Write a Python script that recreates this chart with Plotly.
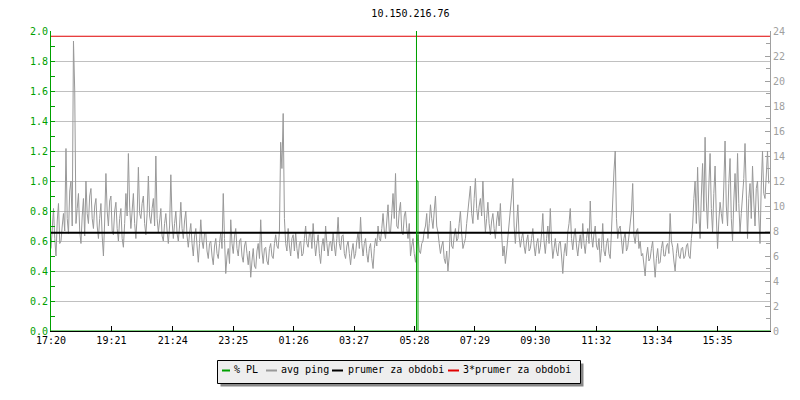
import plotly.graph_objects as go

# ---- data ----
title_text = "10.150.216.76"
tick_minutes = [0, 121, 244, 365, 486, 607, 728, 849, 970, 1092, 1214, 1335]
tick_labels = ["17:20", "19:21", "21:24", "23:25", "01:26", "03:27",
               "05:28", "07:29", "09:30", "11:32", "13:34", "15:35"]

avg_ping_ms = [
    # 17:20 - 23:20
    6.6, 8.0, 9.8, 7.4, 6.0, 8.8, 10.2, 7.0, 7.2, 8.4, 9.4, 8.0, 14.6, 9.0, 7.8, 11.2,
    12.0, 8.4, 23.2, 19.2, 8.6, 9.8, 11.0, 8.0, 7.0, 9.2, 10.6, 7.6, 12.0, 9.4, 8.6, 10.8,
    11.4, 9.0, 8.2, 10.0, 10.6, 8.4, 7.4, 9.0, 10.2, 7.6, 6.0, 8.8, 12.6, 9.6, 8.4, 10.4,
    10.8, 8.0, 7.7, 9.6, 10.3, 8.2, 7.2, 9.0, 9.8, 7.4, 6.7, 8.6, 11.0, 9.2, 14.2, 10.0,
    8.2, 9.6, 11.0, 8.6, 7.4, 9.2, 13.1, 9.4, 9.0, 10.2, 10.8, 8.6, 7.7, 9.4, 12.4, 9.2,
    8.6, 9.8, 10.6, 8.4, 14.0, 9.0, 7.9, 8.8, 9.8, 7.6, 7.2, 8.6, 9.4, 8.0, 7.0, 8.4,
    12.5, 8.8, 7.4, 8.6, 9.6, 7.8, 7.2, 8.4, 10.3, 8.2, 7.4, 8.8, 9.6, 7.6, 6.7, 7.8,
    8.6, 7.0, 6.0, 7.6, 8.2, 6.8, 5.5, 7.0, 8.9, 7.2, 6.6, 7.8, 7.9, 6.4, 5.8, 7.0,
    7.2, 6.0, 5.3, 6.8, 7.4, 6.2, 5.8, 7.0, 7.9, 6.6, 11.0, 7.4, 4.6, 6.0, 6.6, 5.4,
    # 23:20 - 05:20
    8.9, 7.0, 6.2, 7.6, 8.2, 6.6, 6.0, 7.2, 7.4, 6.0, 5.5, 6.8, 7.2, 6.2, 5.3, 6.4,
    4.3, 5.6, 6.6, 5.2, 5.0, 6.4, 7.0, 5.8, 8.9, 6.4, 5.4, 6.6, 6.7, 5.6, 5.3, 6.6,
    7.0, 6.0, 5.8, 7.0, 7.7, 6.8, 6.6, 8.0, 15.1, 13.0, 17.4, 9.0, 7.0, 6.4, 8.2, 6.8,
    6.0, 7.4, 7.7, 6.4, 7.9, 6.6, 5.8, 7.0, 7.2, 6.0, 6.2, 7.4, 8.4, 7.0, 6.7, 7.8,
    7.9, 6.6, 8.6, 7.2, 6.0, 7.0, 7.7, 6.2, 5.4, 6.8, 7.4, 6.4, 8.4, 7.0, 6.0, 7.0,
    7.2, 6.4, 7.9, 6.8, 6.0, 7.4, 9.1, 7.0, 6.5, 7.6, 7.7, 6.2, 5.8, 6.8, 7.2, 6.2,
    5.3, 6.4, 7.0, 5.8, 6.2, 7.2, 7.9, 6.6, 9.1, 7.0, 6.0, 7.0, 7.4, 6.2, 5.5, 6.6,
    7.0, 5.8, 5.0, 6.6, 7.4, 6.8, 8.4, 7.4, 7.2, 8.2, 9.4, 8.0, 7.4, 8.8, 10.1, 8.0,
    7.9, 9.4, 11.0, 9.0, 12.6, 8.4, 8.2, 9.6, 10.3, 8.0, 7.7, 9.2, 9.6, 8.2, 7.4, 8.6,
    # 05:20 - 11:20
    6.0, 6.8, 7.4, 6.2, 5.5, 6.6, 7.7, 6.4, 6.2, 7.0, 7.2, 8.0, 8.4, 9.4, 7.4, 8.6,
    10.1, 9.0, 8.2, 9.6, 10.8, 8.4, 7.9, 7.0, 6.2, 6.8, 7.2, 5.8, 5.4, 6.4, 4.8, 6.0,
    8.8, 6.8, 6.6, 7.6, 8.2, 7.2, 7.4, 8.6, 9.6, 7.8, 6.6, 7.0, 7.4, 8.6, 9.8, 10.4,
    11.6, 9.4, 8.6, 10.6, 12.2, 9.8, 8.9, 10.0, 10.6, 9.2, 12.0, 9.6, 7.9, 9.0, 10.3, 8.6,
    7.7, 8.8, 9.4, 8.2, 7.4, 8.8, 9.6, 8.4, 10.2, 7.8, 6.0, 6.8, 5.4, 6.4, 7.4, 8.6,
    9.8, 10.8, 12.2, 8.4, 7.0, 8.2, 10.1, 7.6, 6.7, 7.4, 7.9, 6.8, 6.2, 7.2, 7.7, 6.4,
    6.6, 7.4, 8.2, 6.8, 6.0, 7.0, 7.4, 6.2, 6.7, 7.8, 9.4, 7.2, 6.2, 7.4, 8.4, 7.0,
    9.8, 7.2, 5.8, 6.6, 7.4, 6.4, 6.0, 7.0, 7.2, 6.0, 4.6, 6.2, 7.0, 6.0, 7.9, 8.6,
    9.8, 7.4, 6.5, 7.6, 8.2, 6.8, 6.0, 7.0, 7.7, 6.6, 8.6, 7.0, 6.2, 7.4, 8.2, 7.0,
    # 11:20 - 17:20
    10.4, 7.6, 6.7, 7.8, 8.4, 6.8, 6.5, 7.4, 5.5, 6.6, 8.6, 6.4, 6.0, 7.0, 7.4, 6.2,
    5.8, 8.0, 11.4, 12.8, 14.4, 9.0, 7.4, 8.2, 8.4, 7.0, 6.2, 7.4, 7.9, 6.4, 6.7, 7.6,
    8.6, 9.6, 11.8, 7.6, 7.0, 8.0, 8.2, 6.6, 7.2, 6.0, 6.2, 5.4, 4.4, 6.0, 6.7, 5.6,
    5.8, 6.6, 7.2, 5.6, 4.3, 5.8, 6.6, 5.4, 5.5, 6.6, 7.2, 6.0, 6.0, 6.8, 7.0, 6.2,
    9.4, 7.2, 6.7, 5.6, 4.8, 6.2, 7.0, 6.0, 5.8, 6.6, 6.7, 5.8, 6.0, 6.8, 7.0, 6.0,
    5.8, 7.4, 8.4, 10.6, 12.0, 8.6, 13.1, 9.4, 7.4, 10.8, 13.4, 9.6, 15.5, 10.4, 8.2, 11.6,
    14.2, 9.8, 7.9, 11.0, 13.2, 9.2, 6.6, 8.8, 10.3, 9.4, 8.6, 11.6, 15.2, 10.0, 8.4, 11.8,
    13.8, 9.0, 7.2, 10.4, 12.6, 9.6, 14.2, 10.2, 7.9, 9.4, 10.8, 12.2, 15.0, 9.6, 7.4, 10.6,
    11.8, 9.0, 13.2, 10.4, 8.4, 11.4, 12.0, 9.2, 7.0, 11.6, 14.4, 11.0, 10.6, 12.4, 14.4, 11.8,
]
SPAN_MIN = 1440
ping_minutes = [i * SPAN_MIN / len(avg_ping_ms) for i in range(len(avg_ping_ms))]

pl_minutes = [0, 732, 732, 732, 735, 735, 1440]
pl_percent = [0, 0, 100, 1.0, 1.0, 0, 0]

avg_line_minutes = [0, 1440]
prumer_ms = [7.86, 7.86]
prumer3_ms = [23.58, 23.58]

# ---- colors / fonts ----
GREEN = "#00a000"
GRAY = "#999999"
AXGRAY = "#a0a0a0"
RED = "#e00000"
FONT = "DejaVu Sans Mono"

OFF = 8                     # page body margin
W, H = 800 - OFF, 400 - OFF
L, R, T, B = 51 - OFF, 770 - OFF, 31 - OFF, 331 - OFF


def px(x):  # page pixel -> paper
    return (x - OFF - L) / (R - L)


def py(y):
    return (B - (y - OFF)) / (B - T)


fig = go.Figure()
fig.add_trace(go.Scatter(x=ping_minutes, y=avg_ping_ms, mode="lines",
                         line=dict(color=GRAY, width=1), yaxis="y", name="avg ping"))
fig.add_trace(go.Scatter(x=avg_line_minutes, y=prumer_ms, mode="lines",
                         line=dict(color="black", width=2), yaxis="y", name="prumer za obdobi"))
fig.add_trace(go.Scatter(x=avg_line_minutes, y=prumer3_ms, mode="lines",
                         line=dict(color=RED, width=1), yaxis="y", name="3*prumer za obdobi"))
fig.add_trace(go.Scatter(x=pl_minutes, y=pl_percent, mode="lines",
                         line=dict(color=GREEN, width=1), yaxis="y2", name="% PL"))

# custom legend
shapes = []
annots = []
shapes.append(dict(type="rect", xref="paper", yref="paper",
                   x0=px(220.5), x1=px(583.5), y0=py(386.5), y1=py(363.5),
                   fillcolor="#888888", line=dict(width=0), layer="above"))
shapes.append(dict(type="rect", xref="paper", yref="paper",
                   x0=px(217.5), x1=px(580.5), y0=py(383.5), y1=py(360.5),
                   fillcolor="#eeeeee", line=dict(color="black", width=1), layer="above"))
items = [
    (222, 230, GREEN, 233, "% PL"),
    (266, 277, GRAY, 280, "avg ping"),
    (332, 343, "black", 346.5, "prumer za obdobi"),
    (448, 459, RED, 461.5, "3*prumer za obdobi"),
]
for x0, x1, c, tx, txt in items:
    shapes.append(dict(type="line", xref="paper", yref="paper",
                       x0=px(x0), x1=px(x1), y0=py(370.5), y1=py(370.5),
                       line=dict(color=c, width=2), layer="above"))
    annots.append(dict(xref="paper", yref="paper", x=px(tx - 1), y=py(370),
                       xanchor="left", yanchor="middle", text=txt, showarrow=False,
                       font=dict(family=FONT, size=10, color="black")))

fig.update_layout(
    width=W, height=H,
    margin=dict(l=L, r=W - R, t=T, b=H - B),
    paper_bgcolor="white", plot_bgcolor="white",
    showlegend=False,
    title=dict(text=title_text, x=0.5, xref="paper", y=1 - (13 - OFF) / H, yanchor="middle",
               xanchor="center", font=dict(family=FONT, size=10, color="black")),
    font=dict(family=FONT, size=10),
    shapes=shapes, annotations=annots,
    xaxis=dict(range=[0, 1440], tickvals=tick_minutes, ticktext=tick_labels,
               ticks="inside", ticklen=5, tickcolor="black", showline=True,
               linecolor="black", linewidth=1, showgrid=False, zeroline=False,
               tickfont=dict(family=FONT, size=10, color="black")),
    yaxis=dict(range=[0, 24], side="right", dtick=2, tick0=0, ticks="inside", ticklen=5,
               tickcolor=AXGRAY, showline=True, linecolor=AXGRAY, linewidth=1,
               showgrid=False, zeroline=False,
               minor=dict(dtick=1, ticks="inside", ticklen=4, tickcolor=AXGRAY, showgrid=False),
               tickfont=dict(family=FONT, size=10, color=AXGRAY)),
    yaxis2=dict(range=[0, 2], overlaying="y", side="left", dtick=0.2, tick0=0,
                tickformat=".1f", ticks="inside", ticklen=4, tickcolor=GREEN,
                showline=True, linecolor=GREEN, linewidth=1,
                showgrid=True, gridcolor="#c0c0c0", gridwidth=1, zeroline=False,
                minor=dict(dtick=0.1, ticks="inside", ticklen=4, tickcolor=GREEN, showgrid=False),
                tickfont=dict(family=FONT, size=10, color=GREEN)),
)

fig.write_html("out.html")
